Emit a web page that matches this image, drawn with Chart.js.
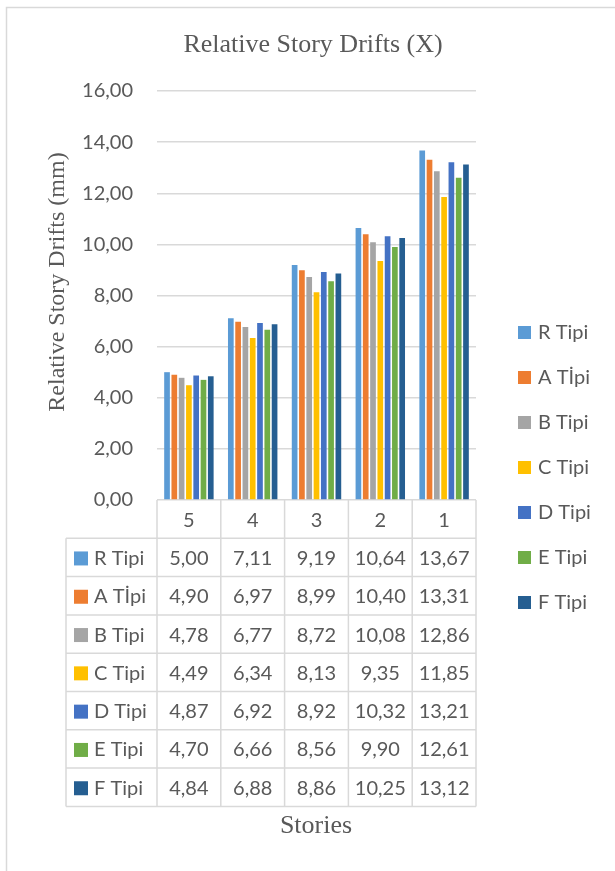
<!DOCTYPE html>
<html>
<head>
<meta charset="utf-8">
<script src="https://cdn.jsdelivr.net/npm/chart.js@4.4.1/dist/chart.umd.min.js"></script>
<style>
  html, body { margin: 0; padding: 0; background: #fff; }
  canvas { display: block; }
</style>
</head>
<body>
<canvas id="chart" width="615" height="871"></canvas>
<script>
'use strict';

// data
var stories = ['5', '4', '3', '2', '1'];
var seriesNames = ['R Tipi', 'A Tİpi', 'B Tipi', 'C Tipi', 'D Tipi', 'E Tipi', 'F Tipi'];
var rTipi = [5.00, 7.11, 9.19, 10.64, 13.67];
var aTipi = [4.90, 6.97, 8.99, 10.40, 13.31];
var bTipi = [4.78, 6.77, 8.72, 10.08, 12.86];
var cTipi = [4.49, 6.34, 8.13, 9.35, 11.85];
var dTipi = [4.87, 6.92, 8.92, 10.32, 13.21];
var eTipi = [4.70, 6.66, 8.56, 9.90, 12.61];
var fTipi = [4.84, 6.88, 8.86, 10.25, 13.12];
var yMin = 0, yMax = 16, yStep = 2;

var seriesValues = [rTipi, aTipi, bTipi, cTipi, dTipi, eTipi, fTipi];
var seriesColors = ['#5B9BD5', '#ED7D31', '#A5A5A5', '#FFC000', '#4472C4', '#70AD47', '#255E91'];

var textColor = '#595959';
var lineColor = '#d9d9d9';
var sansFont = 'Lato, "Open Sans", sans-serif';
var serifFont = '"Liberation Serif", "DejaVu Serif", serif';

var fmt = function(v){
  return v.toFixed(2).replace('.', ',');
};

//
//  extras: title, axis titles, data table, legend
//
var extrasPlugin = {
  id: 'extras',
  afterDraw: function(chart){
    var ctx = chart.ctx;
    var area = chart.chartArea;
    var x = chart.scales.x;
    var n = stories.length;
    var colW = (x.right - x.left) / n;
    var rowH = 38.3;
    var top = area.bottom;
    var labelLeft = 66;
    var rows = chart.data.datasets.length;
    var bottom = top + rowH * (rows + 1);

    ctx.save();

    // outer frame
    ctx.strokeStyle = lineColor;
    ctx.lineWidth = 1.5;
    ctx.strokeRect(6.5, 7.5, 700, 900);

    // titles
    ctx.fillStyle = textColor;
    ctx.textAlign = 'center';
    ctx.textBaseline = 'middle';
    ctx.font = '26px ' + serifFont;
    ctx.fillText('Relative Story Drifts (X)', 313, 45);
    ctx.fillText('Stories', 316, 826);
    ctx.font = '24px ' + serifFont;
    ctx.save();
    ctx.translate(58, 282);
    ctx.rotate(-Math.PI / 2);
    ctx.fillText('Relative Story Drifts (mm)', 0, 0);
    ctx.restore();

    // table grid
    ctx.strokeStyle = lineColor;
    ctx.lineWidth = 1.5;
    ctx.beginPath();
    for (var c = 0; c <= n; c++) {
      var cx = x.left + colW * c;
      ctx.moveTo(cx, top);
      ctx.lineTo(cx, bottom);
    }
    ctx.moveTo(labelLeft, top + rowH);
    ctx.lineTo(labelLeft, bottom);
    for (var r = 1; r <= rows + 1; r++) {
      var ry = top + rowH * r;
      ctx.moveTo(labelLeft, ry);
      ctx.lineTo(x.right, ry);
    }
    ctx.stroke();

    // table text
    ctx.font = '20px ' + sansFont;
    ctx.fillStyle = textColor;
    ctx.textAlign = 'center';
    stories.forEach(function(s, i){
      ctx.fillText(s, x.getPixelForValue(i), top + rowH / 2 + 1);
    });
    chart.data.datasets.forEach(function(ds, k){
      var cy = top + rowH * (k + 1.5) + 1;
      ctx.fillStyle = ds.backgroundColor;
      ctx.fillRect(74, cy - 7, 14, 14);
      ctx.fillStyle = textColor;
      ctx.textAlign = 'left';
      ctx.fillText(ds.label, 94, cy);
      ctx.textAlign = 'center';
      ds.data.forEach(function(v, i){
        ctx.fillText(fmt(v), x.getPixelForValue(i), cy);
      });
    });

    // legend
    chart.data.datasets.forEach(function(ds, k){
      var ly = 333 + 45 * k;
      ctx.fillStyle = ds.backgroundColor;
      ctx.fillRect(518, ly - 7, 13, 13);
      ctx.fillStyle = textColor;
      ctx.textAlign = 'left';
      ctx.fillText(ds.label, 538, ly);
    });

    ctx.restore();
  }
};

var buildDatasets = function(){
  var sets = [];
  seriesNames.forEach(function(name, i){
    sets.push({
      label: name,
      data: seriesValues[i],
      backgroundColor: seriesColors[i],
      borderWidth: 0,
      categoryPercentage: 0.8,
      barPercentage: 0.78
    });
  });
  return sets;
};

!function(){
  var canvas = document.getElementById('chart');
  new Chart(canvas, {
    type: 'bar',
    data: { labels: stories, datasets: buildDatasets() },
    options: {
      responsive: false,
      animation: false,
      devicePixelRatio: 1,
      layout: { padding: { left: 10, right: 139, top: 91, bottom: 371 } },
      plugins: {
        legend: { display: false },
        title: { display: false },
        tooltip: { enabled: false }
      },
      scales: {
        x: { display: false },
        y: {
          min: yMin,
          max: yMax,
          border: { display: false },
          grid: { color: lineColor, lineWidth: 1.5, drawTicks: false },
          ticks: {
            stepSize: yStep,
            padding: 24,
            color: textColor,
            font: { family: sansFont, size: 20 },
            callback: function(v){ return fmt(v); }
          },
          afterFit: function(scale){ scale.width = 147; }
        }
      }
    },
    plugins: [extrasPlugin]
  });
}();
</script>
</body>
</html>
